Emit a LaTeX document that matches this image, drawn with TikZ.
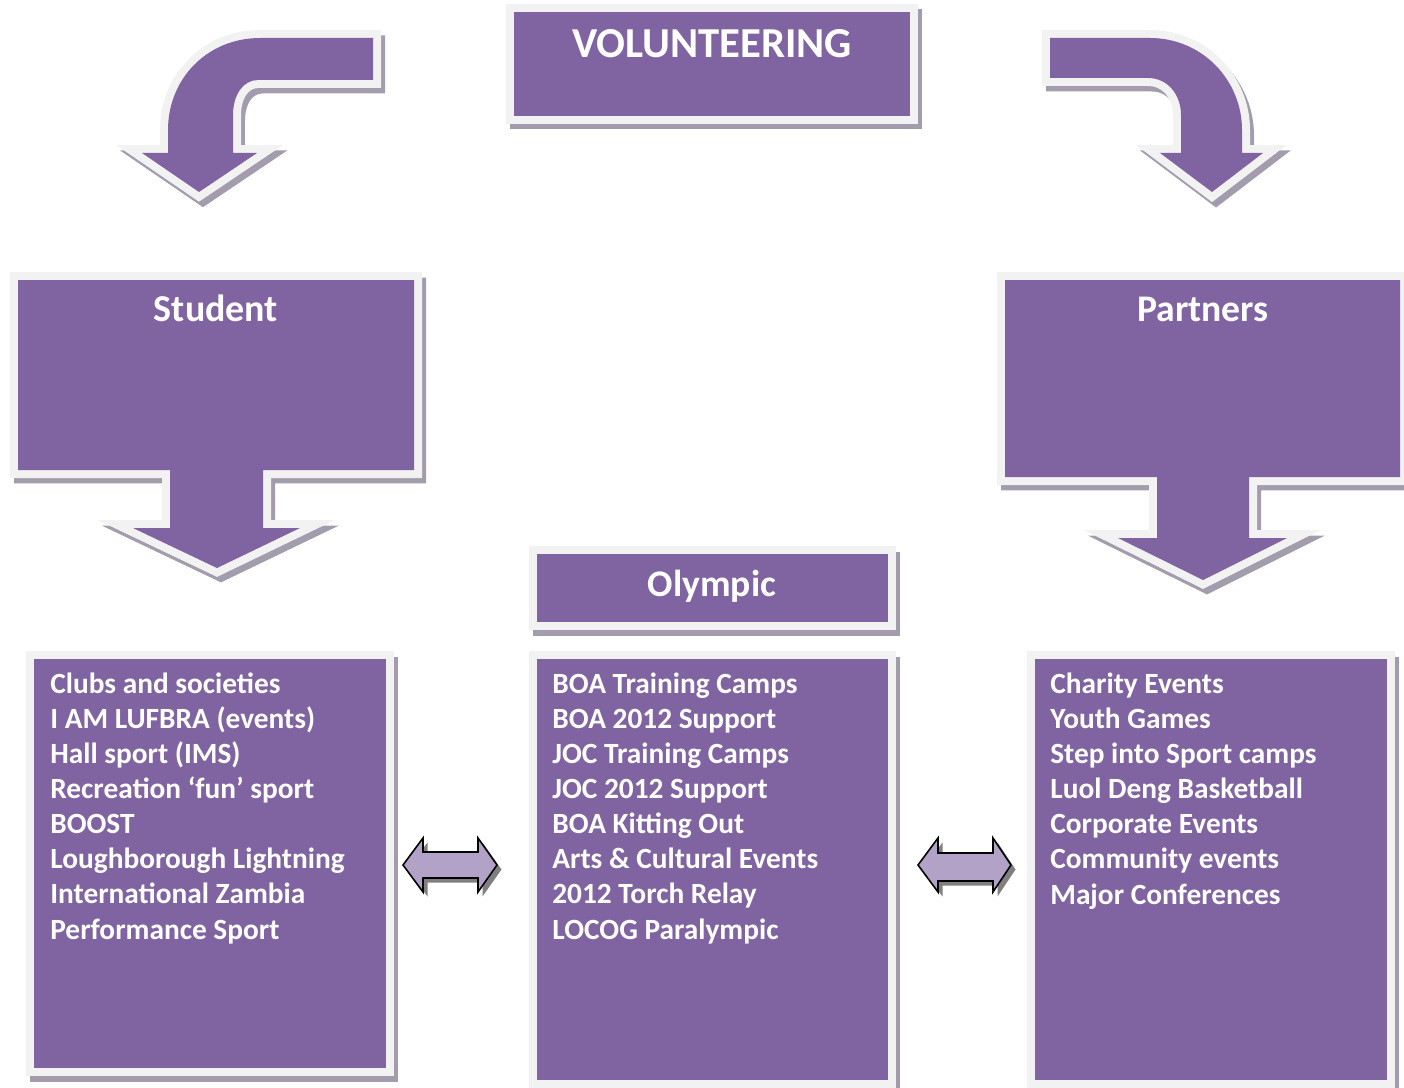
\documentclass[tikz,border=0pt]{standalone}
\usepackage{fontspec}
\setmainfont{Carlito}
\definecolor{boxpurple}{RGB}{128,100,162}
\definecolor{boxrim}{RGB}{242,242,242}
\definecolor{boxshade}{RGB}{163,156,173}
\definecolor{swapfill}{RGB}{179,162,199}

\begin{document}
\begin{tikzpicture}[x=0.02cm, y=-0.02cm, line join=miter,
	block/.style={fill=boxpurple,
		preaction={draw=boxshade, fill=boxshade, line width=0.32cm, transform canvas={xshift=0.08cm, yshift=-0.11cm}},
		preaction={draw=boxrim, line width=0.32cm}},
	swap/.style={fill=swapfill, draw=black, line width=0.9pt,
		preaction={fill=black!50, transform canvas={xshift=0.09cm, yshift=-0.09cm}}},
	heading/.style={text=white, inner sep=0pt, anchor=base},
	items/.style={text=white, inner sep=0pt, anchor=base west, align=left,
		font=\bfseries\fontsize{16.7}{20}\selectfont}
	]

\useasboundingbox (0,0) rectangle (1404,1088);

% top box and the two bent arrows
\path[block] (514,12) rectangle (910,116);
\path[block] (373,38) -- (260,38) .. controls (208,38) and (168,78) .. (168,130) -- (168,153) -- (142,153) -- (199,192) -- (257,153) -- (233,153) -- (233,115) .. controls (233,95) and (243,80) .. (258,80) -- (373,80) -- cycle;
\path[block] (1050,38) -- (1150,38) .. controls (1202,38) and (1242,80) .. (1242,130) -- (1242,153) -- (1263,153) -- (1212,192) -- (1160,153) -- (1181,153) -- (1181,115) .. controls (1181,95) and (1168,78) .. (1148,78) -- (1050,78) -- cycle;

% side boxes pointing down
\path[block] (18,280) -- (414,280) -- (414,470) -- (263,470) -- (263,528) -- (300,528) -- (217,568) -- (133,528) -- (170,528) -- (170,470) -- (18,470) -- cycle;
\path[block] (1005,280) -- (1400,280) -- (1400,477) -- (1249,477) -- (1249,538) -- (1287,538) -- (1203,580) -- (1118,538) -- (1157,538) -- (1157,477) -- (1005,477) -- cycle;

\path[block] (537,554) rectangle (888,622);
\path[block] (34,659) rectangle (386,1068);
\path[block] (537,659) rectangle (888,1080);
\path[block] (1035,659) rectangle (1387,1080);

\path[swap] (403,865) -- (423,838) -- (423,852) -- (478,852) -- (478,838) -- (497,865) -- (478,892) -- (478,878) -- (423,878) -- (423,892) -- cycle;
\path[swap] (918,865) -- (938,838) -- (938,853) -- (993,853) -- (993,838) -- (1011,865) -- (993,892) -- (993,881) -- (938,881) -- (938,892) -- cycle;

\node[heading, font=\bfseries\fontsize{24.3}{28}\selectfont] (volunteering) at (712,58) {VOLUNTEERING};
\node[heading, font=\bfseries\fontsize{21.6}{24}\selectfont] (student) at (216,321) {Student};
\node[heading, font=\bfseries\fontsize{21.4}{24}\selectfont] (partners) at (1203,321) {Partners};
\node[heading, font=\bfseries\fontsize{21.4}{24}\selectfont] (olympic) at (712,596) {Olympic};

% base anchor sits on the last line
\node[items] (studentlist) at (50,939) {Clubs and societies\\I AM LUFBRA (events)\\Hall sport (IMS)\\Recreation ‘fun’ sport\\BOOST\\Loughborough Lightning\\International Zambia\\Performance Sport};
\node[items] (olympiclist) at (552,939) {BOA Training Camps\\BOA 2012 Support\\JOC Training Camps\\JOC 2012 Support\\BOA Kitting Out\\Arts \& Cultural Events\\2012 Torch Relay\\LOCOG Paralympic};
\node[items] (partnerlist) at (1050,904) {Charity Events\\Youth Games\\Step into Sport camps\\Luol Deng Basketball\\Corporate Events\\Community events\\Major Conferences};

\end{tikzpicture}
\end{document}
